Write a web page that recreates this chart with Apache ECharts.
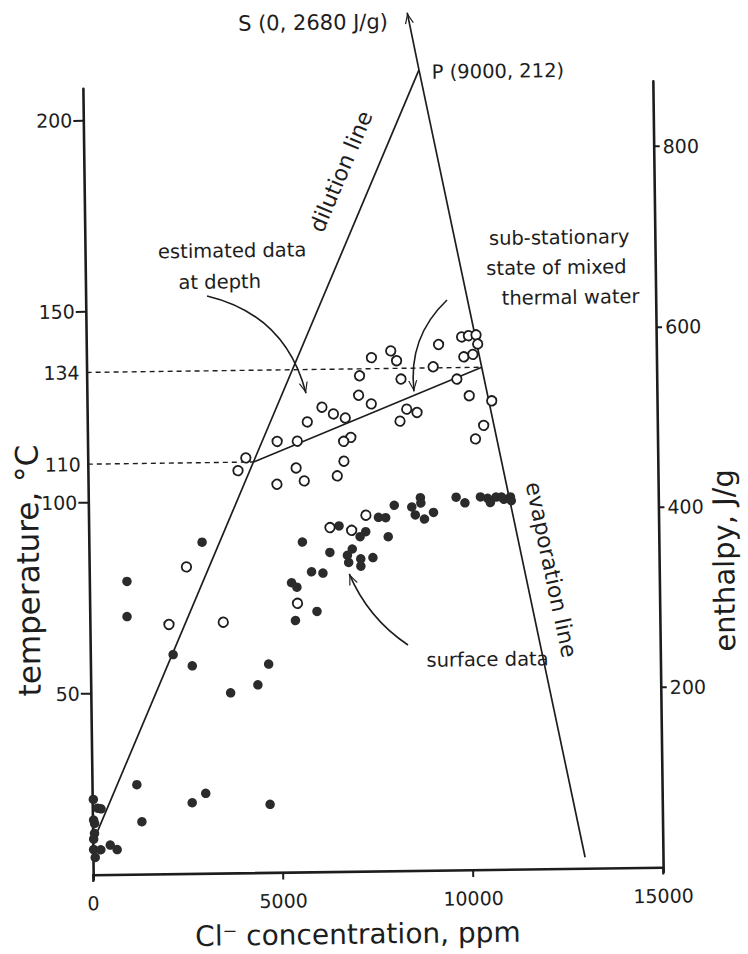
<!DOCTYPE html>
<html>
<head>
<meta charset="utf-8">
<script src="https://cdn.jsdelivr.net/npm/echarts@6/dist/echarts.min.js"></script>
<style>
html,body{margin:0;padding:0;background:#ffffff;overflow:hidden;}
#chart{width:748px;height:954px;transform:rotate(-0.75deg);transform-origin:50% 50%;}
</style>
</head>
<body>
<div id="chart"></div>
<script>
// ---------- data ----------
const clTicks = [0, 5000, 10000, 15000];
const tempTicks = [50, 100, 150, 200];
const refTemps = [110, 134];
const enthalpyTicks = [200, 400, 600, 800];

// estimated data at depth (open circles)
const openCl = [9880,10060,10260,10300,9270,8010,7500,8160,9930,10170,9120,7180,8270,9740,7150,7480,10060,10650,6180,6480,6790,5790,8410,8680,8230,10430,10210,4990,5520,6930,6740,4160,3950,5480,6740,5690,6560,4970,7300,6350,6920,5470,2560,2080,3510];
const openTemp = [142.0,142.3,142.5,140.1,140.1,138.6,136.9,136.0,136.8,137.4,134.3,132.2,131.2,131.0,127.1,124.8,126.6,125.2,124.1,122.3,121.2,120.3,123.3,122.4,120.2,118.8,115.3,115.3,115.3,116.1,115.1,111.1,107.8,108.3,109.9,104.9,106.1,104.1,95.7,92.6,91.8,72.9,82.8,67.8,68.2];

// surface data (filled circles)
const filledCl = [8050,8740,8750,8510,8600,8840,9080,9680,9910,10320,10510,10580,10730,10870,10940,11110,11130,7630,7820,6590,7290,7140,7880,5620,6340,6930,6800,6830,7150,7150,7470,5850,6150,5320,5460,5980,5410,2980,990,980,2180,2680,3680,4400,4690,1180,2630,2990,4680,1300,30,140,230,30,55,50,25,20,210,460,640,60];
const filledTemp = [98.2,100.1,98.7,97.7,95.6,94.5,96.2,100.1,98.6,100.1,99.7,98.6,100.0,100.0,99.4,100.0,99.0,95.1,95.0,93.0,91.4,90.1,90.0,88.9,86.1,86.9,85.3,83.4,84.3,82.4,84.6,81.1,80.7,78.3,77.1,70.7,68.4,89.2,79.2,70.0,59.9,56.9,49.7,51.7,57.1,26.0,21.1,23.5,20.4,16.3,22.3,20.0,19.8,16.9,16.0,13.4,11.9,9.2,9.1,10.3,9.1,7.1];

// construction lines [Cl ppm, temperature °C]
const pointP = [8850, 212];
const dilutionStart = [0, 11];
const evaporationEnd = [12950, 5.5];
const towardS = [8560, 227];
const mixStart = [4359, 110];
const mixEnd = [10400, 134];

// annotation arrows [from, to]
const arrowDepth = [[3195, 153.6], [5766, 127.8]];
const arrowMixed = [[9508, 151.7], [8608, 127.9]];
const arrowSurface = [[8363, 61.6], [6842, 80.4]];
const arrowCurvature = [0.3, -0.25, 0.15];

// axis extents
const clRange = [0, 15000];
const tempRange = [1.3, 208.2];
const enthalpyRange = [-5.3, 872.1];

// ---------- chart ----------
const INK = '#1d1d1d';
const FONT = '"DejaVu Sans", "Liberation Sans", sans-serif';
const chevron = 'path://M-11,-11 L-10.98,-11 L-11,-10.98 Z M11,11 L10.98,11 L11,10.98 Z M0,0 L4.6,11 L3.3,11 L0,2.8 L-3.3,11 L-4.6,11 Z';

const zip = (a, b) => a.map((v, i) => [v, b[i]]);

const chart = echarts.init(document.getElementById('chart'), null, {renderer: 'svg', width: 748, height: 954});

const axisLine = {show: true, lineStyle: {color: INK, width: 2.6}};
const labelStyle = {color: INK, fontSize: 19, fontFamily: FONT};
const plain = v => String(v);

function txt(text, x, y, size, align, rot) {
  return {
    type: 'text', x: x, y: y, rotation: rot || 0, silent: true,
    style: {text: text, font: size + 'px ' + FONT, fill: INK,
            textAlign: align, align: align, textVerticalAlign: 'middle', verticalAlign: 'middle'}
  };
}

const option = {
  animation: false,
  backgroundColor: '#ffffff',
  grid: {left: 88, right: 90, top: 85, bottom: 78},
  xAxis: {
    type: 'value', min: clRange[0], max: clRange[1], interval: 5000,
    axisLine: axisLine,
    axisTick: {show: true, length: 7, lineStyle: {color: INK, width: 2}},
    axisLabel: Object.assign({margin: 14, customValues: clTicks, formatter: plain}, labelStyle),
    splitLine: {show: false}
  },
  yAxis: [
    {
      type: 'value', position: 'left', min: tempRange[0], max: tempRange[1],
      axisLine: axisLine,
      axisTick: {show: true, length: 10, customValues: tempTicks, lineStyle: {color: INK, width: 2}},
      axisLabel: Object.assign({margin: 11, customValues: tempTicks, formatter: plain}, labelStyle),
      splitLine: {show: false}
    },
    {
      type: 'value', position: 'right', min: enthalpyRange[0], max: enthalpyRange[1],
      axisLine: axisLine,
      axisTick: {show: true, length: 6, customValues: enthalpyTicks, lineStyle: {color: INK, width: 2}},
      axisLabel: Object.assign({margin: 9, customValues: enthalpyTicks, formatter: plain}, labelStyle),
      splitLine: {show: false}
    },
    {
      type: 'value', position: 'left', min: tempRange[0], max: tempRange[1],
      axisLine: {show: false}, axisTick: {show: false},
      axisLabel: Object.assign({margin: 7, customValues: refTemps, formatter: plain}, labelStyle),
      splitLine: {show: false}
    }
  ],
  series: [
    {
      name: 'dilution line', type: 'line', clip: false, symbol: 'none', silent: true,
      lineStyle: {color: INK, width: 1.7},
      data: [dilutionStart, pointP]
    },
    {
      name: 'evaporation line', type: 'line', clip: false, symbol: 'none', silent: true,
      lineStyle: {color: INK, width: 1.7},
      data: [pointP, evaporationEnd]
    },
    {
      name: 'mixing line', type: 'line', clip: false, symbol: 'none', silent: true,
      lineStyle: {color: INK, width: 1.6},
      data: [mixStart, mixEnd]
    },
    {
      name: '134 ref', type: 'line', clip: false, symbol: 'none', silent: true,
      lineStyle: {color: INK, width: 1.4, type: [5, 4]},
      data: [[0, refTemps[1]], mixEnd]
    },
    {
      name: '110 ref', type: 'line', clip: false, symbol: 'none', silent: true,
      lineStyle: {color: INK, width: 1.4, type: [5, 4]},
      data: [[0, refTemps[0]], mixStart]
    },
    {
      name: 'arrows', type: 'lines', coordinateSystem: 'cartesian2d', xAxisIndex: 0, yAxisIndex: 0,
      clip: false, silent: true, polyline: false,
      symbol: ['none', chevron], symbolSize: 22,
      lineStyle: {color: INK, width: 1.6, opacity: 1},
      data: [
        {coords: [pointP, towardS], lineStyle: {width: 1.7, curveness: 0}},
        {coords: arrowDepth, lineStyle: {curveness: arrowCurvature[0]}},
        {coords: arrowMixed, lineStyle: {curveness: arrowCurvature[1]}},
        {coords: arrowSurface, lineStyle: {curveness: arrowCurvature[2]}}
      ]
    },
    {
      name: 'surface data', type: 'scatter', clip: false, symbol: 'circle', symbolSize: 9.5,
      itemStyle: {color: '#2b2b2b', opacity: 1},
      data: zip(filledCl, filledTemp), z: 5
    },
    {
      name: 'estimated data at depth', type: 'scatter', clip: false, symbol: 'circle', symbolSize: 9.5,
      itemStyle: {color: '#ffffff', borderColor: INK, borderWidth: 1.8, opacity: 1},
      data: zip(openCl, openTemp), z: 6
    }
  ],
  graphic: [
    txt('temperature, °C', 26.8, 566, 31, 'center', Math.PI / 2),
    txt('enthalpy, J/g', 723, 565, 29, 'center', Math.PI / 2),
    txt('Cl\u207B concentration, ppm', 352, 934, 28, 'center', 0),
    txt('S (0, 2680 J/g)', 244, 22, 21, 'left', 0),
    txt('P (9000, 212)', 437, 73, 19.5, 'left', 0),
    txt('estimated data', 161, 249, 19.5, 'left', 0),
    txt('at depth', 181, 280, 19.5, 'left', 0),
    txt('sub-stationary', 492, 240, 19.5, 'left', 0),
    txt('state of mixed', 489, 270, 19.5, 'left', 0),
    txt('thermal water', 504, 300, 19.5, 'left', 0),
    txt('surface data', 424, 661, 19.5, 'left', 0),
    txt('dilution line', 345, 171, 22, 'center', 66.4 * Math.PI / 180),
    txt('evaporation line', 550, 572, 22, 'center', -78.8 * Math.PI / 180)
  ]
};

chart.setOption(option);
</script>
</body>
</html>
